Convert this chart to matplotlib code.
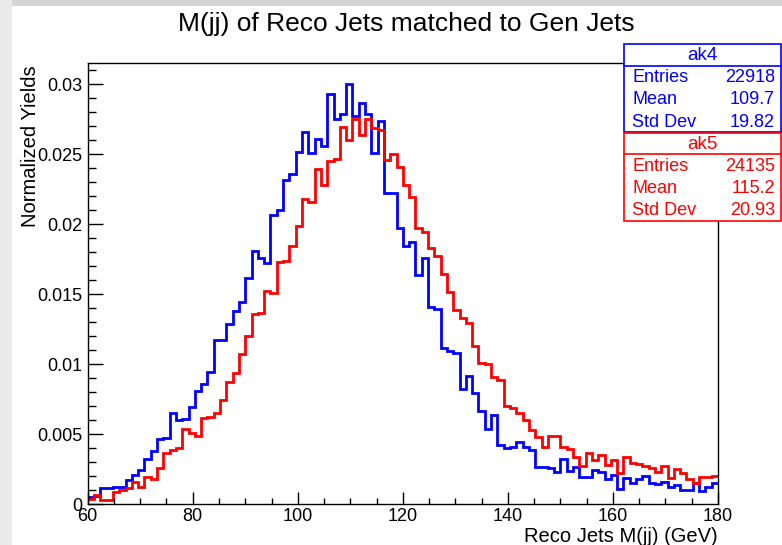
import numpy as np
import matplotlib
matplotlib.use("Agg")
import matplotlib.pyplot as plt
from matplotlib.patches import Rectangle
from matplotlib.ticker import MultipleLocator

plt.rcParams['font.family'] = ['Liberation Sans', 'DejaVu Sans']

# 100 bins of 1.2 GeV between 60 and 180 GeV
x_lo, x_hi, n_bins = 60.0, 180.0, 100

ak4_yields = [
    0.00054, 0.0006, 0.00114, 0.00114, 0.00126, 0.00126, 0.00174, 0.0021, 0.00245, 0.00324,
    0.00383, 0.00467, 0.00476, 0.0065, 0.00602, 0.0061, 0.00695, 0.00808, 0.00857, 0.00942,
    0.01173, 0.01173, 0.0129, 0.0138, 0.01447, 0.01617, 0.01806, 0.01757, 0.01721, 0.02062,
    0.02102, 0.02317, 0.02359, 0.02512, 0.02657, 0.02507, 0.02609, 0.02559, 0.02929, 0.02752,
    0.02786, 0.03, 0.02769, 0.02862, 0.02786, 0.02507, 0.02733, 0.02221, 0.02221, 0.01969,
    0.01845, 0.01869, 0.01638, 0.01757, 0.01407, 0.01393, 0.01114, 0.01097, 0.01078, 0.00825,
    0.00917, 0.00797, 0.00669, 0.00538, 0.00638, 0.00424, 0.004, 0.00412, 0.00443, 0.00412,
    0.00388, 0.00264, 0.00264, 0.0026, 0.0023, 0.0032, 0.00236, 0.00264, 0.00195, 0.00195,
    0.00242, 0.00228, 0.00178, 0.0021, 0.00107, 0.00185, 0.00154, 0.00181, 0.00202, 0.00154,
    0.00143, 0.00162, 0.00126, 0.00138, 0.00102, 0.00102, 0.00154, 0.00095, 0.00126, 0.00154,
]

ak5_yields = [
    0.00035, 0.00066, 0.00031, 0.00031, 0.00085, 0.00102, 0.00114, 0.00162, 0.00121, 0.00197,
    0.00178, 0.00257, 0.00364, 0.00388, 0.004, 0.0054, 0.00507, 0.00488, 0.00614, 0.00626,
    0.0065, 0.00745, 0.00876, 0.0094, 0.01072, 0.01201, 0.01355, 0.01362, 0.01519, 0.01507,
    0.01726, 0.01738, 0.01847, 0.0199, 0.02181, 0.02157, 0.02393, 0.02281, 0.02448, 0.02464,
    0.0269, 0.02602, 0.02752, 0.02633, 0.02752, 0.02686, 0.02674, 0.02457, 0.02497, 0.02405,
    0.02281, 0.02197, 0.01971, 0.01947, 0.01828, 0.01769, 0.01645, 0.01512, 0.01388, 0.01328,
    0.01293, 0.01133, 0.0101, 0.00998, 0.00912, 0.00888, 0.00702, 0.0069, 0.00654, 0.00602,
    0.00531, 0.00483, 0.00412, 0.00488, 0.00485, 0.0041, 0.00395, 0.0034, 0.00274, 0.00364,
    0.00314, 0.0035, 0.00277, 0.00314, 0.00226, 0.0034, 0.00293, 0.00288, 0.00274, 0.00262,
    0.00233, 0.00274, 0.00185, 0.0025, 0.00226, 0.00178, 0.00154, 0.00193, 0.00197, 0.00205,
]

# stats box contents: (name, entries, mean, std dev)
ak4_stats = ("ak4", "22918", "109.7", "19.82")
ak5_stats = ("ak5", "24135", "115.2", "20.93")

W, H = 782, 545
fig = plt.figure(figsize=(W / 100, H / 100), dpi=100)
fig.patch.set_facecolor("white")


def px(x, y):
    # pixel position (from top-left) -> figure fraction
    return x / W, 1 - y / H


# grey window border on top and left
fig.add_artist(Rectangle((0, 1 - 6 / H), 1, 6 / H, transform=fig.transFigure,
                         facecolor="#d5d5d5", edgecolor="none"))
fig.add_artist(Rectangle((0, 0), 12 / W, 1, transform=fig.transFigure,
                         facecolor="#e9e9e9", edgecolor="none"))

left, right, top, bottom = 87.7, 718.0, 63.0, 504.3
ax = fig.add_axes([left / W, 1 - bottom / H, (right - left) / W, (bottom - top) / H])

edges = np.linspace(x_lo, x_hi, n_bins + 1)
ax.stairs(ak4_yields, edges, color="#0000ff", linewidth=2.0, baseline=None)
ax.stairs(ak5_yields, edges, color="#ff0000", linewidth=2.0, baseline=None)

ax.set_xlim(x_lo, x_hi)
ax.set_ylim(0, 0.0315)

ax.xaxis.set_major_locator(MultipleLocator(20))
ax.xaxis.set_minor_locator(MultipleLocator(5))
ax.yaxis.set_major_locator(MultipleLocator(0.005))
ax.yaxis.set_minor_locator(MultipleLocator(0.001))
ax.yaxis.set_major_formatter(plt.FuncFormatter(lambda v, p: "0" if v == 0 else "%g" % v))

ax.tick_params(axis="x", which="major", direction="in", length=9, width=1, labelsize=13, pad=3)
ax.tick_params(axis="x", which="minor", direction="in", length=4.5, width=1)
ax.tick_params(axis="y", which="major", direction="in", length=11, width=1, labelsize=13, pad=4)
ax.tick_params(axis="y", which="minor", direction="in", length=6, width=1)
for sp in ax.spines.values():
    sp.set_linewidth(1)

fig.text(*px(right, 536), "Reco Jets M(jj) (GeV)", ha="right", va="center", fontsize=14.5)
fig.text(*px(31, 65), "Normalized Yields", ha="center", va="top", rotation=90, fontsize=14.5)
fig.text(*px(406, 24), "M(jj) of Reco Jets matched to Gen Jets", ha="center", va="center",
         fontsize=19)


def stats_box(y0, stats, color):
    x0, x1 = 623.5, 781.0
    h_title, h_row = 21.5, 22.3
    y1 = y0 + h_title + 3 * h_row
    fig.add_artist(Rectangle(px(x0, y1), (x1 - x0) / W, (y1 - y0) / H, transform=fig.transFigure,
                             facecolor="white", edgecolor=color, linewidth=1.2))
    fig.add_artist(plt.Line2D([x0 / W, x1 / W], [1 - (y0 + h_title) / H] * 2,
                              transform=fig.transFigure, color=color, linewidth=1.2))
    fig.text(*px((x0 + x1) / 2, y0 + h_title / 2 + 1), stats[0], ha="center", va="center",
             fontsize=13.5, color=color)
    for i, (name, val) in enumerate(zip(["Entries", "Mean", "Std Dev"], stats[1:])):
        yc = y0 + h_title + h_row * (i + 0.5) + 1
        fig.text(*px(632, yc), name, ha="left", va="center", fontsize=13, color=color)
        fig.text(*px(775, yc), val, ha="right", va="center", fontsize=13, color=color)


stats_box(44.0, ak4_stats, "#0000ff")
stats_box(132.5, ak5_stats, "#ff0000")

fig.savefig("out.png", dpi=100)
